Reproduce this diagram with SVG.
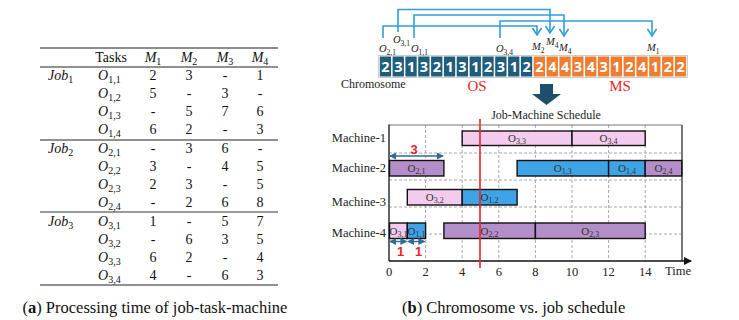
<svg xmlns="http://www.w3.org/2000/svg" width="739" height="320" viewBox="0 0 739 320">
<defs>
<style>
.serif{font-family:"Liberation Serif","Times New Roman",serif;fill:#111}
.tb{font-size:14px;text-anchor:middle}
.it{font-style:italic}
.sub{font-size:10px;font-style:normal}
.cell{font-family:"Open Sans","Liberation Sans",sans-serif;font-weight:bold;font-size:14.5px;fill:#fff;text-anchor:middle}
.os{fill:#1f5d7c}
.ms{fill:#ed7d31}
.conn{fill:none;stroke:#2f9fd8;stroke-width:1.6;marker-end:url(#chev)}
.grid{stroke:#a8a8a8;stroke-width:1;stroke-dasharray:3,2}
.bar{stroke:#111;stroke-width:1.4}
.pink{fill:#f2cbee}
.purple{fill:#b48ec9}
.blue{fill:#3fa3e6}
.bl{font-family:"Liberation Serif",serif;font-size:11px;fill:#333;text-anchor:middle}
.bl .s{font-size:8px}
.ml{font-family:"Liberation Serif",serif;font-size:12.5px;fill:#222;text-anchor:end}
.tick{font-family:"Liberation Serif",serif;font-size:12.5px;fill:#222;text-anchor:middle}
.red{font-family:"Liberation Sans",sans-serif;font-weight:bold;font-size:13px;fill:#e8252a;text-anchor:middle}
.dim{stroke:#2e6f8f;stroke-width:1.4;marker-start:url(#dimA);marker-end:url(#dimA)}
.gl{font-family:"Liberation Serif",serif;font-style:italic;font-size:10.5px;fill:#222}
.gl .s{font-size:7.5px;font-style:normal}
.cap{font-family:"Liberation Serif",serif;font-size:16.5px;fill:#111}
</style>
<marker id="chev" viewBox="0 0 10 10" refX="9" refY="5" markerWidth="10" markerHeight="10" markerUnits="userSpaceOnUse" orient="auto">
<path d="M2,0.5 L9,5 L2,9.5" fill="none" stroke="#2f9fd8" stroke-width="1.6"/>
</marker>
<marker id="dimA" viewBox="0 0 8 8" refX="7" refY="4" markerWidth="7" markerHeight="7" markerUnits="userSpaceOnUse" orient="auto-start-reverse">
<path d="M0,0 L8,4 L0,8 z" fill="#2e6f8f"/>
</marker>
<marker id="axA" viewBox="0 0 8 8" refX="7" refY="4" markerWidth="8" markerHeight="8" markerUnits="userSpaceOnUse" orient="auto">
<path d="M0,0 L8,4 L0,8 z" fill="#111"/>
</marker>
</defs>
<rect width="739" height="320" fill="#fff"/>

<!-- Table -->
<g id="table" class="serif">
<line x1="40" y1="48" x2="278" y2="48" stroke="#666" stroke-width="1.6"/>
<line x1="40" y1="67" x2="278" y2="67" stroke="#222" stroke-width="1"/>
<line x1="40" y1="140" x2="278" y2="140" stroke="#222" stroke-width="1"/>
<line x1="40" y1="212" x2="278" y2="212" stroke="#777" stroke-width="1.6"/>
<line x1="40" y1="285" x2="278" y2="285" stroke="#222" stroke-width="1"/>
<g class="tb">
<text x="111" y="62">Tasks</text>
<text x="153" y="62"><tspan class="it">M</tspan><tspan class="sub" dy="3">1</tspan></text>
<text x="189" y="62"><tspan class="it">M</tspan><tspan class="sub" dy="3">2</tspan></text>
<text x="225" y="62"><tspan class="it">M</tspan><tspan class="sub" dy="3">3</tspan></text>
<text x="260" y="62"><tspan class="it">M</tspan><tspan class="sub" dy="3">4</tspan></text>
</g>
<g font-size="14" font-style="italic">
<text x="48" y="80">Job<tspan class="sub" dy="3">1</tspan></text>
<text x="48" y="153">Job<tspan class="sub" dy="3">2</tspan></text>
<text x="48" y="226">Job<tspan class="sub" dy="3">3</tspan></text>
</g>
<g font-size="14" font-style="italic">
<text x="98" y="80">O<tspan class="sub" dy="3">1,1</tspan></text>
<text x="98" y="98">O<tspan class="sub" dy="3">1,2</tspan></text>
<text x="98" y="116">O<tspan class="sub" dy="3">1,3</tspan></text>
<text x="98" y="134">O<tspan class="sub" dy="3">1,4</tspan></text>
<text x="98" y="153">O<tspan class="sub" dy="3">2,1</tspan></text>
<text x="98" y="171">O<tspan class="sub" dy="3">2,2</tspan></text>
<text x="98" y="189">O<tspan class="sub" dy="3">2,3</tspan></text>
<text x="98" y="207">O<tspan class="sub" dy="3">2,4</tspan></text>
<text x="98" y="226">O<tspan class="sub" dy="3">3,1</tspan></text>
<text x="98" y="244">O<tspan class="sub" dy="3">3,2</tspan></text>
<text x="98" y="262">O<tspan class="sub" dy="3">3,3</tspan></text>
<text x="98" y="280">O<tspan class="sub" dy="3">3,4</tspan></text>
</g>
<g class="tb">
<text x="153" y="80">2</text><text x="189" y="80">3</text><text x="225" y="80">-</text><text x="260" y="80">1</text>
<text x="153" y="98">5</text><text x="189" y="98">-</text><text x="225" y="98">3</text><text x="260" y="98">-</text>
<text x="153" y="116">-</text><text x="189" y="116">5</text><text x="225" y="116">7</text><text x="260" y="116">6</text>
<text x="153" y="134">6</text><text x="189" y="134">2</text><text x="225" y="134">-</text><text x="260" y="134">3</text>
<text x="153" y="153">-</text><text x="189" y="153">3</text><text x="225" y="153">6</text><text x="260" y="153">-</text>
<text x="153" y="171">3</text><text x="189" y="171">-</text><text x="225" y="171">4</text><text x="260" y="171">5</text>
<text x="153" y="189">2</text><text x="189" y="189">3</text><text x="225" y="189">-</text><text x="260" y="189">5</text>
<text x="153" y="207">-</text><text x="189" y="207">2</text><text x="225" y="207">6</text><text x="260" y="207">8</text>
<text x="153" y="226">1</text><text x="189" y="226">-</text><text x="225" y="226">5</text><text x="260" y="226">7</text>
<text x="153" y="244">-</text><text x="189" y="244">6</text><text x="225" y="244">3</text><text x="260" y="244">5</text>
<text x="153" y="262">6</text><text x="189" y="262">2</text><text x="225" y="262">-</text><text x="260" y="262">4</text>
<text x="153" y="280">4</text><text x="189" y="280">-</text><text x="225" y="280">6</text><text x="260" y="280">3</text>
</g>
</g>

<!-- Chromosome -->
<g id="chromosome">
<rect x="378.5" y="55.5" width="309" height="22" fill="#fff" stroke="#ccc" stroke-width="1"/>
<g class="os">
<rect x="379.8" y="56.5" width="11.3" height="20"/><rect x="392.6" y="56.5" width="11.3" height="20"/><rect x="405.4" y="56.5" width="11.3" height="20"/><rect x="418.2" y="56.5" width="11.3" height="20"/><rect x="431.1" y="56.5" width="11.3" height="20"/><rect x="443.9" y="56.5" width="11.3" height="20"/><rect x="456.7" y="56.5" width="11.3" height="20"/><rect x="469.6" y="56.5" width="11.3" height="20"/><rect x="482.4" y="56.5" width="11.3" height="20"/><rect x="495.2" y="56.5" width="11.3" height="20"/><rect x="508.1" y="56.5" width="11.3" height="20"/><rect x="520.9" y="56.5" width="11.3" height="20"/>
</g>
<g class="ms">
<rect x="533.7" y="56.5" width="11.3" height="20"/><rect x="546.6" y="56.5" width="11.3" height="20"/><rect x="559.4" y="56.5" width="11.3" height="20"/><rect x="572.2" y="56.5" width="11.3" height="20"/><rect x="585.1" y="56.5" width="11.3" height="20"/><rect x="597.9" y="56.5" width="11.3" height="20"/><rect x="610.7" y="56.5" width="11.3" height="20"/><rect x="623.6" y="56.5" width="11.3" height="20"/><rect x="636.4" y="56.5" width="11.3" height="20"/><rect x="649.2" y="56.5" width="11.3" height="20"/><rect x="662.1" y="56.5" width="11.3" height="20"/><rect x="674.9" y="56.5" width="11.3" height="20"/>
</g>
<g class="cell">
<text x="385.4" y="71.5">2</text><text x="398.3" y="71.5">3</text><text x="411.1" y="71.5">1</text><text x="423.9" y="71.5">3</text><text x="436.8" y="71.5">2</text><text x="449.6" y="71.5">1</text><text x="462.4" y="71.5">3</text><text x="475.3" y="71.5">1</text><text x="488.1" y="71.5">2</text><text x="500.9" y="71.5">3</text><text x="513.8" y="71.5">1</text><text x="526.6" y="71.5">2</text>
<text x="539.4" y="71.5">2</text><text x="552.3" y="71.5">4</text><text x="565.1" y="71.5">4</text><text x="577.9" y="71.5">3</text><text x="590.8" y="71.5">4</text><text x="603.6" y="71.5">3</text><text x="616.4" y="71.5">1</text><text x="629.3" y="71.5">2</text><text x="642.1" y="71.5">4</text><text x="654.9" y="71.5">1</text><text x="667.8" y="71.5">2</text><text x="680.6" y="71.5">2</text>
</g>
<text x="341" y="88" font-family="Liberation Serif,serif" font-size="12" fill="#222">Chromosome</text>
<text x="477" y="91" font-family="Liberation Serif,serif" font-size="15" fill="#e8252a" text-anchor="middle">OS</text>
<text x="620" y="91" font-family="Liberation Serif,serif" font-size="15" fill="#e8252a" text-anchor="middle">MS</text>
<g class="gl">
<text x="379" y="52">O<tspan class="s" dy="3">2,1</tspan></text>
<text x="393" y="43">O<tspan class="s" dy="3">3,1</tspan></text>
<text x="411" y="52">O<tspan class="s" dy="3">1,1</tspan></text>
<text x="496" y="52">O<tspan class="s" dy="3">3,4</tspan></text>
<text x="532" y="50">M<tspan class="s" dy="3">2</tspan></text>
<text x="546" y="45">M<tspan class="s" dy="3">4</tspan></text>
<text x="559" y="51">M<tspan class="s" dy="3">4</tspan></text>
<text x="647" y="51">M<tspan class="s" dy="3">1</tspan></text>
</g>
</g>

<g id="connectors">
<path class="conn" d="M383,38 V26 H537 V35"/>
<path class="conn" d="M398,32 V9.5 H550 V33"/>
<path class="conn" d="M414,38 V15 H564 V36"/>
<path class="conn" d="M500,38 V21 H652 V36"/>
</g>

<g id="big-arrow">
<polygon points="540,84 553,84 553,94 561,94 546.5,105 532,94 540,94" fill="#1d4f6b"/>
</g>

<!-- Gantt -->
<g id="gantt">
<text x="546" y="119" font-family="Liberation Serif,serif" font-size="12" fill="#222" text-anchor="middle">Job-Machine Schedule</text>
<g class="grid">
<line x1="425.6" y1="125" x2="425.6" y2="261"/><line x1="462.2" y1="125" x2="462.2" y2="261"/><line x1="498.8" y1="125" x2="498.8" y2="261"/><line x1="535.4" y1="125" x2="535.4" y2="261"/><line x1="572" y1="125" x2="572" y2="261"/><line x1="608.6" y1="125" x2="608.6" y2="261"/><line x1="645.2" y1="125" x2="645.2" y2="261"/>
<line x1="389" y1="153" x2="681" y2="153"/><line x1="389" y1="180" x2="681" y2="180"/><line x1="389" y1="207" x2="681" y2="207"/><line x1="389" y1="234" x2="681" y2="234"/>
</g>
<line x1="389" y1="125" x2="682" y2="125" stroke="#777" stroke-width="1.2"/>
<line x1="682" y1="125" x2="682" y2="261" stroke="#777" stroke-width="2"/>
<line x1="389" y1="124.5" x2="389" y2="261" stroke="#111" stroke-width="1.3"/>
<line x1="389" y1="261" x2="691" y2="261" stroke="#111" stroke-width="1.3" marker-end="url(#axA)"/>

<g id="machine-1">
<text class="ml" x="386" y="142">Machine-1</text>
<rect class="bar pink" x="462.2" y="131" width="109.8" height="14.5"/>
<rect class="bar pink" x="572" y="131" width="73.2" height="14.5"/>
<text class="bl" x="517" y="142">O<tspan class="s" dy="2">3,3</tspan></text>
<text class="bl" x="608.6" y="142">O<tspan class="s" dy="2">3,4</tspan></text>
</g>
<g id="machine-2">
<text class="ml" x="386" y="172">Machine-2</text>
<rect class="bar purple" x="389.5" y="160.5" width="54.4" height="15.5"/>
<rect class="bar blue" x="517.1" y="160.5" width="91.5" height="15.5"/>
<rect class="bar blue" x="608.6" y="160.5" width="36.6" height="15.5"/>
<rect class="bar purple" x="645.2" y="160.5" width="36.6" height="15.5"/>
<text class="bl" x="416.5" y="172">O<tspan class="s" dy="2">2,1</tspan></text>
<text class="bl" x="562.8" y="172">O<tspan class="s" dy="2">1,3</tspan></text>
<text class="bl" x="626.9" y="172">O<tspan class="s" dy="2">1,4</tspan></text>
<text class="bl" x="663.5" y="172">O<tspan class="s" dy="2">2,4</tspan></text>
</g>
<g id="machine-3">
<text class="ml" x="386" y="206">Machine-3</text>
<rect class="bar pink" x="407.3" y="189.5" width="54.9" height="15.5"/>
<rect class="bar blue" x="462.2" y="189.5" width="54.9" height="15.5"/>
<text class="bl" x="434.7" y="201">O<tspan class="s" dy="2">3,2</tspan></text>
<text class="bl" x="489.6" y="201">O<tspan class="s" dy="2">1,2</tspan></text>
</g>
<g id="machine-4">
<text class="ml" x="386" y="237">Machine-4</text>
<rect class="bar pink" x="389.5" y="223" width="17.8" height="15.5"/>
<rect class="bar blue" x="407.3" y="223" width="18.3" height="15.5"/>
<rect class="bar purple" x="443.9" y="223" width="91.5" height="15.5"/>
<rect class="bar purple" x="535.4" y="223" width="109.8" height="15.5"/>
<text class="bl" x="398.4" y="234.5">O<tspan class="s" dy="2">3,1</tspan></text>
<text class="bl" x="416.5" y="234.5">O<tspan class="s" dy="2">1,1</tspan></text>
<text class="bl" x="489.6" y="234.5">O<tspan class="s" dy="2">2,2</tspan></text>
<text class="bl" x="590.3" y="234.5">O<tspan class="s" dy="2">2,3</tspan></text>
</g>

<line x1="480" y1="119" x2="480" y2="268" stroke="#e8252a" stroke-width="1.6"/>

<g id="dims">
<line class="dim" x1="390" y1="156" x2="443" y2="156"/>
<text class="red" x="414" y="154">3</text>
<line class="dim" x1="390" y1="241.5" x2="406.5" y2="241.5"/>
<line class="dim" x1="408" y1="241.5" x2="424.5" y2="241.5"/>
<text class="red" x="400.5" y="256">1</text>
<text class="red" x="418.5" y="256">1</text>
</g>

<g class="tick">
<text x="389" y="276">0</text><text x="425.6" y="276">2</text><text x="462.2" y="276">4</text><text x="498.8" y="276">6</text><text x="535.4" y="276">8</text><text x="572" y="276">10</text><text x="608.6" y="276">12</text><text x="645.2" y="276">14</text>
</g>
<text x="665" y="275" font-family="Liberation Serif,serif" font-size="12.5" fill="#222">Time</text>
</g>

<g id="captions" class="cap">
<text x="22.5" y="312.5">(<tspan font-weight="bold">a</tspan>) Processing time of job-task-machine</text>
<text x="402" y="312.5">(<tspan font-weight="bold">b</tspan>) Chromosome vs. job schedule</text>
</g>
</svg>
